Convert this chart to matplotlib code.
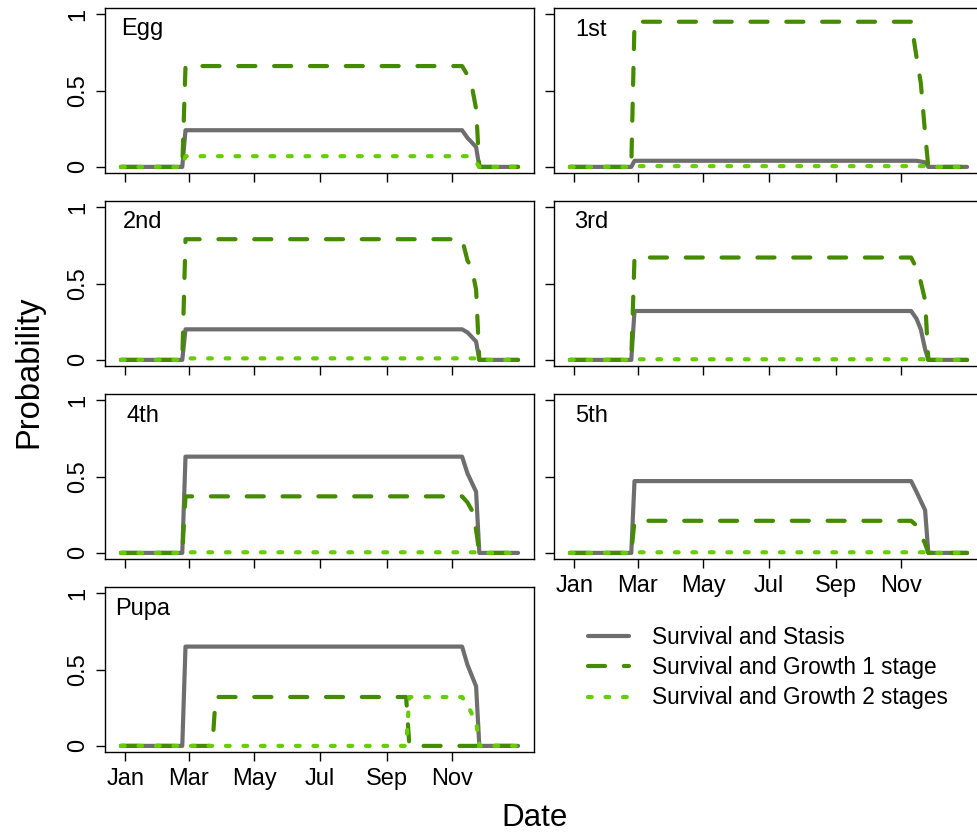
import matplotlib
matplotlib.use("Agg")
import matplotlib.pyplot as plt

plt.rcParams['font.family'] = ['Liberation Sans', 'DejaVu Sans']

# day of year (0 = 1 Jan) at which the values below are given
days = [-4, 53, 56, 81, 84, 261, 264, 313, 318, 322, 326, 329, 365]

stages = ['Egg', '1st', '2nd', '3rd', '4th', '5th', 'Pupa']

# survival and stasis
stasis = [
    [0, 0, .24, .24, .24, .24, .24, .24, .19, .16, .13, 0, 0],
    [0, 0, .04, .04, .04, .04, .04, .04, .04, .035, .03, 0, 0],
    [0, 0, .20, .20, .20, .20, .20, .20, .18, .15, .12, 0, 0],
    [0, 0, .32, .32, .32, .32, .32, .32, .27, .20, .07, 0, 0],
    [0, 0, .63, .63, .63, .63, .63, .63, .52, .46, .40, 0, 0],
    [0, 0, .47, .47, .47, .47, .47, .47, .40, .34, .28, 0, 0],
    [0, 0, .65, .65, .65, .65, .65, .65, .53, .46, .39, 0, 0],
]

# survival and growth 1 stage
growth1 = [
    [0, 0, .66, .66, .66, .66, .66, .66, .60, .53, .38, 0, 0],
    [0, 0, .95, .95, .95, .95, .95, .95, .72, .55, .22, 0, 0],
    [0, 0, .79, .79, .79, .79, .79, .79, .65, .60, .46, 0, 0],
    [0, 0, .67, .67, .67, .67, .67, .67, .60, .51, .39, 0, 0],
    [0, 0, .37, .37, .37, .37, .37, .37, .33, .28, .15, 0, 0],
    [0, 0, .21, .21, .21, .21, .21, .21, .18, .12, .06, 0, 0],
    [0, 0, 0, 0, .32, .32, 0, 0, 0, 0, 0, 0, 0],
]

# survival and growth 2 stages
growth2 = [
    [0, 0, .07, .07, .07, .07, .07, .07, .07, .06, .03, 0, 0],
    [0, 0, .005, .005, .005, .005, .005, .005, .005, .005, .005, 0, 0],
    [0, 0, .01, .01, .01, .01, .01, .01, .01, .01, .01, 0, 0],
    [0, 0, .004, .004, .004, .004, .004, .004, .004, .004, .004, 0, 0],
    [0, 0, .004, .004, .004, .004, .004, .004, .004, .004, .004, 0, 0],
    [0, 0, .004, .004, .004, .004, .004, .004, .004, .004, .004, 0, 0],
    [0, 0, 0, 0, 0, 0, .32, .32, .27, .21, .16, 0, 0],
]

month_days = [0, 59, 120, 181, 243, 304]
month_labels = ['Jan', 'Mar', 'May', 'Jul', 'Sep', 'Nov']

series_labels = ['Survival and Stasis', 'Survival and Growth 1 stage',
                 'Survival and Growth 2 stages']

W, H = 977, 835
fig = plt.figure(figsize=(W / 100, H / 100), dpi=100)

col_x = [105, 554]
row_top = [8, 201, 394, 587]
aw, ah = 429, 165

for i, name in enumerate(stages):
    r, c = i // 2, i % 2
    ax = fig.add_axes([col_x[c] / W, 1 - (row_top[r] + ah) / H, aw / W, ah / H])

    ax.plot(days, stasis[i], color='#6e6e6e', lw=3, solid_joinstyle='round',
            solid_capstyle='round', label=series_labels[0])
    ax.plot(days, growth1[i], color='#458B00', lw=3, dashes=(4.1, 4.5),
            dash_capstyle='round', dash_joinstyle='round', label=series_labels[1])
    ax.plot(days, growth2[i], color='#66CD00', lw=3, dashes=(0.9, 3.3),
            dash_capstyle='round', dash_joinstyle='round', label=series_labels[2])

    ax.set_xlim(-18.8, 379.8)
    ax.set_ylim(-0.04, 1.04)
    ax.set_xticks(month_days)
    ax.set_yticks([0, 0.5, 1])
    ax.tick_params(direction='out', length=6.5, width=1, labelsize=17, pad=5)
    for s in ax.spines.values():
        s.set_linewidth(1)

    if name in ('5th', 'Pupa'):
        ax.set_xticklabels(month_labels)
    else:
        ax.set_xticklabels([])
    if c == 0:
        ax.set_yticklabels(['0', '0.5', '1'])
        for lab in ax.get_yticklabels():
            lab.set_rotation(90)
            lab.set_va('center')
    else:
        ax.set_yticklabels([])

    ax.text(16, 0.86, name, ha='center', va='baseline', fontsize=17)

    if name == 'Pupa':
        handles = ax.get_lines()

fig.legend(handles, series_labels, loc='upper left',
           bbox_to_anchor=(588 / W, 1 - 626 / H), frameon=False,
           borderpad=0, borderaxespad=0, handlelength=1.8,
           handletextpad=1.03, labelspacing=0.32, fontsize=16.3)

fig.text(29 / W, 1 - 372 / H, 'Probability', rotation=90, ha='center',
         va='center', fontsize=23.5)
fig.text(535 / W, 2 / H, 'Date', ha='center', va='bottom', fontsize=22.5)

fig.savefig('out.png', dpi=100)
